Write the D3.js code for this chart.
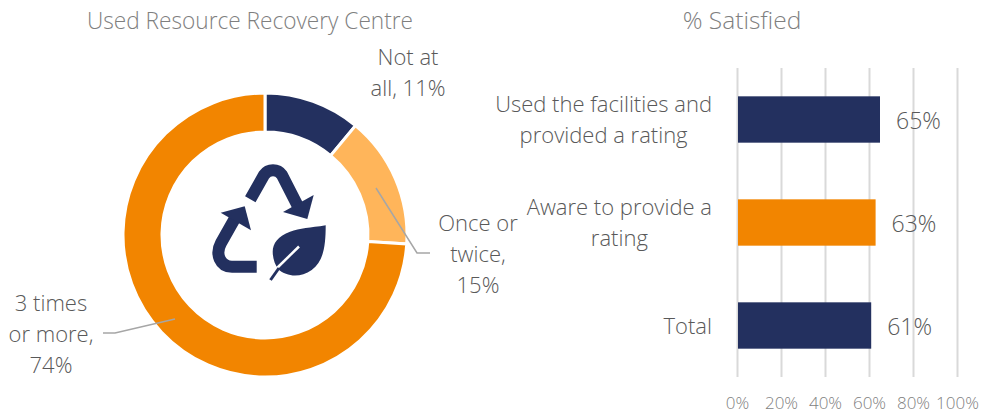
<!DOCTYPE html>
<html>
<head>
<meta charset="utf-8">
<script src="https://cdn.jsdelivr.net/npm/d3@7"></script>
<style>
    html, body { margin: 0; padding: 0; background: #fff; }
    svg { display: block; }
    text { font-family: "Open Sans", sans-serif; font-weight: 300; }
</style>
</head>
<body>
<svg id="chart" width="995" height="416"></svg>
<script>
// donut data
const usageLabels = [["Not at", "all, 11%"], ["Once or", "twice,", "15%"], ["3 times", "or more,", "74%"]];
const usageValues = [11, 15, 74];

// bar data
const satisfiedCategories = [["Used the facilities and", "provided a rating"], ["Aware to provide a", "rating"], ["Total"]];
const satisfiedValues = [65, 63, 61];
const axisTicks = [0, 20, 40, 60, 80, 100];

const navy = "#23305f", orange = "#f28500", lightOrange = "#ffb55a";
const usageColors = [navy, lightOrange, orange];
const barColors = [navy, orange, navy];

const svg = d3.select("#chart");

function multiline(sel, lines, x, y, lh, size, color) {
    let t = sel.append("text")
        .attr("text-anchor", "middle")
        .attr("font-size", size)
        .attr("fill", color);
    lines.forEach(function (line, i) {
        t.append("tspan").attr("x", x).attr("y", y + i * lh).text(line);
    });
    return t;
}

// titles
svg.append("text").attr("x", 250).attr("y", 29).attr("text-anchor", "middle")
    .attr("font-size", 24).attr("textLength", 326).attr("lengthAdjust", "spacingAndGlyphs")
    .attr("fill", "#7f7f7f").text("Used Resource Recovery Centre");
svg.append("text").attr("x", 742).attr("y", 29).attr("text-anchor", "middle")
    .attr("font-size", 24.5).attr("fill", "#7f7f7f").text("% Satisfied");

// donut
const cx = 265, cy = 235;
const donut = svg.append("g").attr("transform", "translate(" + cx + "," + cy + ")");
const pie = d3.pie().sort(null)(usageValues);
const arc = d3.arc().innerRadius(103).outerRadius(142);
donut.selectAll("path").data(pie).join("path")
    .attr("d", arc)
    .attr("fill", function (d, i) { return usageColors[i]; })
    .attr("stroke", "#fff")
    .attr("stroke-width", 3);

// leader lines
const leaders = [
    [[430, 253], [417, 253], [376, 188]],
    [[103, 333], [115, 333], [175, 319]]
];
svg.selectAll(".leader").data(leaders).join("path")
    .attr("class", "leader")
    .attr("d", d3.line())
    .attr("fill", "none")
    .attr("stroke", "#a6a6a6")
    .attr("stroke-width", 1.5);

// donut labels
const labelSpots = [[408, 65], [478, 231], [51, 311]];
usageLabels.forEach(function (lines, i) {
    multiline(svg, lines, labelSpots[i][0], labelSpots[i][1], 31, 22, "#595959");
});

// recycle + leaf icon
const icon = svg.append("g");
icon.append("path")
    .attr("d", "M250.3 199.3 L264 175 A11 11 0 0 1 282 175 L297.3 205")
    .attr("fill", "none").attr("stroke", navy).attr("stroke-width", 12);
icon.append("path").attr("d", "M313.7 195 L307.3 219 L283 212 Z").attr("fill", navy);
icon.append("path")
    .attr("d", "M235 218.3 L221 243 C215 254 220 266.7 232 266.7 L256.7 266.7")
    .attr("fill", "none").attr("stroke", navy).attr("stroke-width", 12);
icon.append("path").attr("d", "M220.7 212.7 L244.7 206.3 L251 230.3 Z").attr("fill", navy);
icon.append("path")
    .attr("d", "M325.7 225.3 C310 228 300 228 290 231.7 C278.3 236 272.7 243.3 272.7 251.7 C272.7 258.3 275 265 278.3 269.3 C286.7 276.7 300 278.3 311.7 270 C323.3 261.7 325.7 246.7 325.7 225.3 Z")
    .attr("fill", navy);
icon.append("path").attr("d", "M299 246.5 L276 269").attr("stroke", "#fff").attr("stroke-width", 2.5).attr("fill", "none");
icon.append("path").attr("d", "M279 268 L270.5 280").attr("stroke", navy).attr("stroke-width", 3).attr("fill", "none");

// bars
const x = d3.scaleLinear().domain([0, 100]).range([737, 957]);
const y = d3.scaleBand().domain(d3.range(satisfiedValues.length)).range([68, 377]).padding(0.55).paddingOuter(0.275);

const xAxis = d3.axisBottom(x)
    .tickValues(axisTicks)
    .tickSize(309)
    .tickPadding(20)
    .tickFormat(function (d) { return d + "%"; });

const axisG = svg.append("g").attr("transform", "translate(0,68)").call(xAxis);
axisG.select(".domain").remove();
axisG.selectAll("line").attr("stroke", "#d9d9d9").attr("stroke-width", 2);
axisG.selectAll("text").attr("font-size", 17).attr("fill", "#7f7f7f").attr("font-family", null);

svg.selectAll(".bar").data(satisfiedValues).join("rect")
    .attr("class", "bar")
    .attr("x", x(0) + 1)
    .attr("y", function (d, i) { return y(i); })
    .attr("width", function (d) { return x(d) - x(0) - 1; })
    .attr("height", y.bandwidth())
    .attr("fill", function (d, i) { return barColors[i]; });

svg.selectAll(".val").data(satisfiedValues).join("text")
    .attr("class", "val")
    .attr("x", function (d) { return x(d) + 16; })
    .attr("y", function (d, i) { return y(i) + y.bandwidth() / 2 + 9; })
    .attr("font-size", 23)
    .attr("fill", "#595959")
    .text(function (d) { return d + "%"; });

// category labels, centred lines with the widest one ending at 712
satisfiedCategories.forEach(function (lines, i) {
    let mid = y(i) + y.bandwidth() / 2;
    let top = mid - (lines.length - 1) * 15.5 + 8;
    let t = multiline(svg, lines, 0, top, 31, 22, "#595959");
    let widest = d3.max(t.selectAll("tspan").nodes(), function (n) { return n.getComputedTextLength(); });
    t.selectAll("tspan").attr("x", 712 - widest / 2);
});
</script>
</body>
</html>
